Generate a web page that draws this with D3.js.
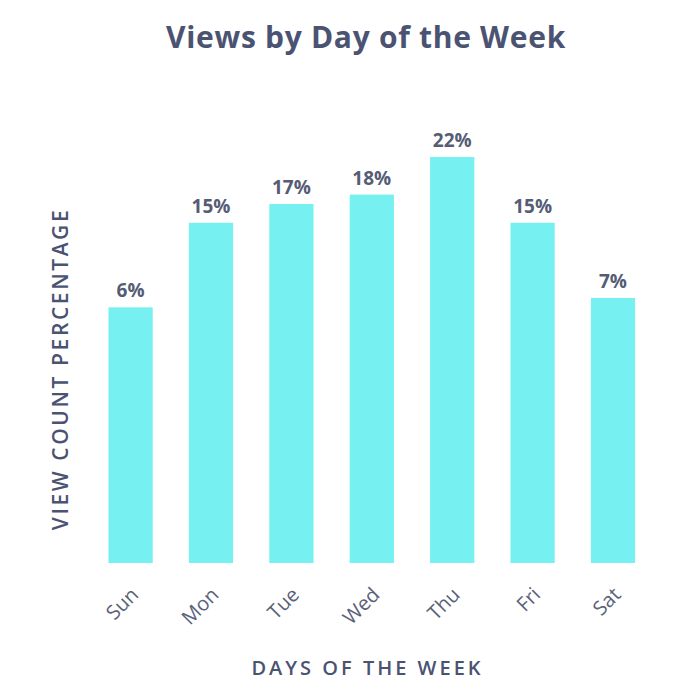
<!DOCTYPE html>
<html>
<head>
<meta charset="utf-8">
<script src="https://cdn.jsdelivr.net/npm/d3@7"></script>
<style>
html,body{margin:0;padding:0;background:#fff;}
svg{display:block;}
</style>
</head>
<body>
<svg id="chart" width="700" height="700"></svg>
<script>
const days = ["Sun","Mon","Tue","Wed","Thu","Fri","Sat"];
const viewPct = [6, 15, 17, 18, 22, 15, 7];
const chartTitle = "Views by Day of the Week";
const xTitle = "DAYS OF THE WEEK";
const yTitle = "VIEW COUNT PERCENTAGE";

const svg = d3.select("#chart");
const font = "'Open Sans', Lato, sans-serif";
const dark = "#4b5372";
const barColor = "#76f0f1";

const x = d3.scaleBand().domain(days).range([90.4, 653.2]).paddingInner(0.45).paddingOuter(0.225);
const y = d3.scaleLinear().domain([-21.2, 22]).range([563, 157]);

svg.append("g").selectAll("rect").data(days).join("rect")
  .attr("x", d => x(d))
  .attr("width", x.bandwidth())
  .attr("y", (d, i) => y(viewPct[i]))
  .attr("height", (d, i) => y(-21.2) - y(viewPct[i]))
  .attr("fill", barColor);

svg.append("g").selectAll("text").data(days).join("text")
  .attr("x", d => x(d) + x.bandwidth() / 2)
  .attr("y", (d, i) => y(viewPct[i]) - 10)
  .attr("text-anchor", "middle")
  .attr("font-family", font)
  .attr("font-weight", 700)
  .attr("font-size", 19)
  .attr("fill", "#555c75")
  .text((d, i) => viewPct[i] + "%");

const xAxis = svg.append("g").attr("transform", "translate(0,563)")
  .call(d3.axisBottom(x).tickSize(0).tickPadding(0));
xAxis.select(".domain").remove();
xAxis.selectAll("text")
  .attr("font-family", font)
  .attr("font-size", 20)
  .attr("fill", "#5a627a")
  .attr("text-anchor", "end")
  .attr("dy", null)
  .attr("y", 0)
  .attr("transform", "translate(9,33) rotate(-45)");

svg.append("text")
  .attr("x", 366).attr("y", 48)
  .attr("text-anchor", "middle")
  .attr("font-family", font).attr("font-weight", 700).attr("font-size", 30)
  .attr("letter-spacing", 0.7)
  .attr("fill", dark)
  .text(chartTitle);

svg.append("text")
  .attr("x", 367.5).attr("y", 675)
  .attr("text-anchor", "middle")
  .attr("font-family", font).attr("font-weight", 600).attr("font-size", 20)
  .attr("letter-spacing", 3)
  .attr("fill", dark)
  .text(xTitle);

svg.append("text")
  .attr("transform", "translate(68,369) rotate(-90)")
  .attr("text-anchor", "middle")
  .attr("font-family", font).attr("font-weight", 600).attr("font-size", 21)
  .attr("letter-spacing", 2.6)
  .attr("fill", dark)
  .text(yTitle);
</script>
</body>
</html>
